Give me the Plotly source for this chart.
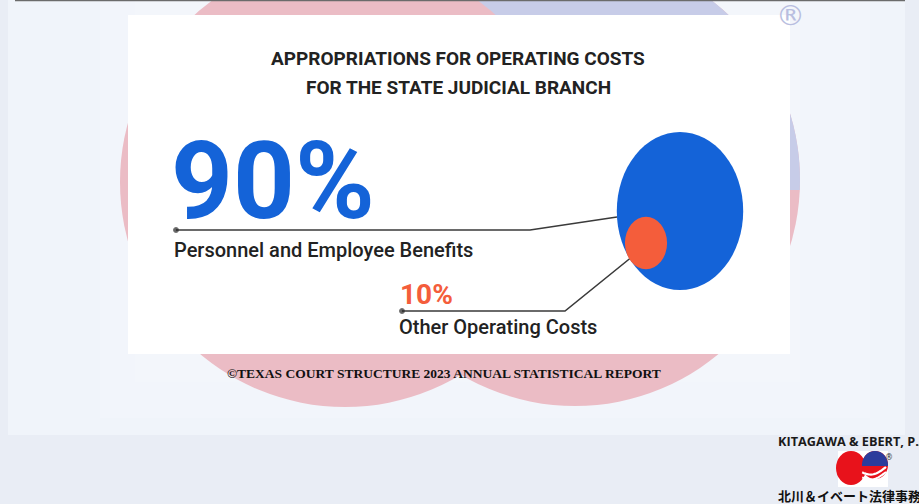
import numpy as np
import plotly.graph_objects as go

# ---------------- data ----------------
categories = ["Personnel and Employee Benefits", "Other Operating Costs"]
shares = [90, 10]
share_labels = ["90%", "10%"]
title_lines = ["APPROPRIATIONS FOR OPERATING COSTS", "FOR THE STATE JUDICIAL BRANCH"]
caption = "©TEXAS COURT STRUCTURE 2023 ANNUAL STATISTICAL REPORT"
firm_en = "KITAGAWA & EBERT, P.A."
firm_ja = "北川＆イベート法律事務所"

W, H = 919, 504
BLUE = "#1463d8"
ORANGE = "#f45d3b"
DARK = "#222222"
FAINT_RED = "#ebbcc5"
FAINT_BLUE = "#c7cce8"

fig = go.Figure()
shapes = []


def rect(x0, y0, x1, y1, color, layer="below"):
    shapes.append(dict(type="rect", xref="x", yref="y", x0=x0, y0=y0, x1=x1, y1=y1,
                       fillcolor=color, line=dict(width=0), layer=layer))


def ellipse(cx, cy, rx, ry, color, layer="below"):
    shapes.append(dict(type="circle", xref="x", yref="y", x0=cx - rx, x1=cx + rx,
                       y0=cy - ry, y1=cy + ry, fillcolor=color, line=dict(width=0), layer=layer))


def cap_path(cx, cy, rx, ry, ycut, n=80):
    # region of an ellipse above the horizontal line y = ycut (screen coords, y down)
    dy = (ycut - cy) / ry
    a0 = np.arcsin(np.clip(dy, -1, 1))
    t = np.linspace(np.pi - a0, 2 * np.pi + a0, n)
    xs = cx + rx * np.cos(t)
    ys = cy + ry * np.sin(t)
    return "M " + " L ".join(f"{x:.2f},{y:.2f}" for x, y in zip(xs, ys)) + " Z"


# ---------------- page background ----------------
rect(0, 0, W, H, "#e9edf5")
rect(8, 0, 905, 435, "#f0f4fa")
rect(100, 0, 870, 418, "#f2f5fb")
rect(135, 0, 800, 382, "#f3f6fb")

# faded logo circles behind the card
ellipse(575, 180, 225, 226, FAINT_RED)
shapes.append(dict(type="path", xref="x", yref="y", path=cap_path(575, 180, 225, 226, 190),
                   fillcolor=FAINT_BLUE, line=dict(width=0), layer="below"))
ellipse(345, 182, 225, 225, FAINT_RED)

# thin top rule
shapes.append(dict(type="line", xref="x", yref="y", x0=15, x1=905, y0=0.6, y1=0.6,
                   line=dict(color="#6b6b6b", width=1.5), layer="below"))

# white card
rect(128, 15, 790, 354, "#ffffff")

# ---------------- proportional circles ----------------
base_ry = 79
circle_pos = [(680, 211), (646, 243)]
colors = [BLUE, ORANGE]
for (cx, cy), s, c in zip(circle_pos, shares, colors):
    ry = base_ry * np.sqrt(s / max(shares))
    rx = ry * 0.8
    ellipse(cx, cy, rx, ry, c, layer="above")

# ---------------- pointer lines ----------------
pointers = [
    ([176, 530, 617], [230, 230, 217]),
    ([402, 565, 633], [311, 311, 256]),
]
for px, py in pointers:
    fig.add_trace(go.Scatter(x=px, y=py, mode="lines+markers",
                             line=dict(color="#3a3a3a", width=1.6),
                             marker=dict(size=[5, 0, 0], color="#222222"),
                             hoverinfo="skip", showlegend=False))

# ---------------- text ----------------
ann = []
ann.append(dict(x=458, y=58, text=f"<b>{title_lines[0]}</b>", showarrow=False,
                font=dict(family="Roboto", size=19, color=DARK), xanchor="center", yanchor="middle"))
ann.append(dict(x=458, y=87, text=f"<b>{title_lines[1]}</b>", showarrow=False,
                font=dict(family="Roboto", size=19, color=DARK), xanchor="center", yanchor="middle"))

ann.append(dict(x=169, y=181, text=f"<b>{share_labels[0]}</b>", showarrow=False,
                font=dict(family="Roboto", size=108, color=BLUE), xanchor="left", yanchor="middle",
                height=96, valign="middle"))
ann.append(dict(x=172, y=250, text=categories[0], showarrow=False,
                font=dict(family="Roboto", size=20, color=DARK, weight=500), xanchor="left", yanchor="middle"))
ann.append(dict(x=398, y=294, text=f"<b>{share_labels[1]}</b>", showarrow=False,
                font=dict(family="Roboto", size=28, color=ORANGE), xanchor="left", yanchor="middle"))
ann.append(dict(x=397, y=327, text=categories[1], showarrow=False,
                font=dict(family="Roboto", size=20, color=DARK, weight=500), xanchor="left", yanchor="middle"))

ann.append(dict(x=444, y=373, text=f"<b>{caption}</b>", showarrow=False,
                font=dict(family="Liberation Serif", size=13.5, color="#111111"),
                xanchor="center", yanchor="middle"))

ann.append(dict(x=790, y=15, text="®", showarrow=False,
                font=dict(family="DejaVu Sans", size=29, color="#b9bee0"), xanchor="center", yanchor="middle"))

ann.append(dict(x=776, y=441, text=f"<b>{firm_en}</b>", showarrow=False,
                font=dict(family="Open Sans", size=12.7, color="#1a1a1a"), xanchor="left", yanchor="middle"))
ann.append(dict(x=776, y=495, text=f"<b>{firm_ja}</b>", showarrow=False,
                font=dict(family="Noto Sans CJK JP", size=13, color="#111111"), xanchor="left", yanchor="middle"))
ann.append(dict(x=889, y=457, text="®", showarrow=False,
                font=dict(family="DejaVu Sans", size=8, color="#333333"), xanchor="center", yanchor="middle"))

# ---------------- small firm logo ----------------
rect(838, 451, 888, 487, "#ffffff", layer="above")
ellipse(851, 468, 15, 17, "#e8121b", layer="above")
ellipse(875, 465, 13, 14, "#e8121b", layer="above")
shapes.append(dict(type="path", xref="x", yref="y", path=cap_path(875, 465, 13, 14, 466),
                   fillcolor="#2b3c9c", line=dict(width=0), layer="above"))
for k, (yy, ww) in enumerate([(470, 2.2), (475, 2.0)]):
    t = np.linspace(0.15, 1.0, 20)
    xs = 858 + 28 * t
    ys = yy + 6 * np.sin(np.pi * t) - 3 * t
    shapes.append(dict(type="path", xref="x", yref="y",
                       path="M " + " L ".join(f"{a:.1f},{b:.1f}" for a, b in zip(xs, ys)),
                       line=dict(color="#ffffff", width=ww), layer="above"))
fig.add_trace(go.Scatter(x=[871, 878, 874, 881], y=[459, 458, 463, 462], mode="markers",
                         marker=dict(symbol="star", size=4, color="#ffffff"),
                         hoverinfo="skip", showlegend=False))

fig.update_layout(
    width=W, height=H, margin=dict(l=0, r=0, t=0, b=0),
    paper_bgcolor="#e9edf5", plot_bgcolor="rgba(0,0,0,0)",
    xaxis=dict(range=[0, W], visible=False, fixedrange=True),
    yaxis=dict(range=[H, 0], visible=False, fixedrange=True),
    shapes=shapes, annotations=ann, showlegend=False,
)
fig.write_html("out.html", config={"displayModeBar": False},
               post_script="document.body.style.margin='0';document.body.style.overflow='hidden';")
